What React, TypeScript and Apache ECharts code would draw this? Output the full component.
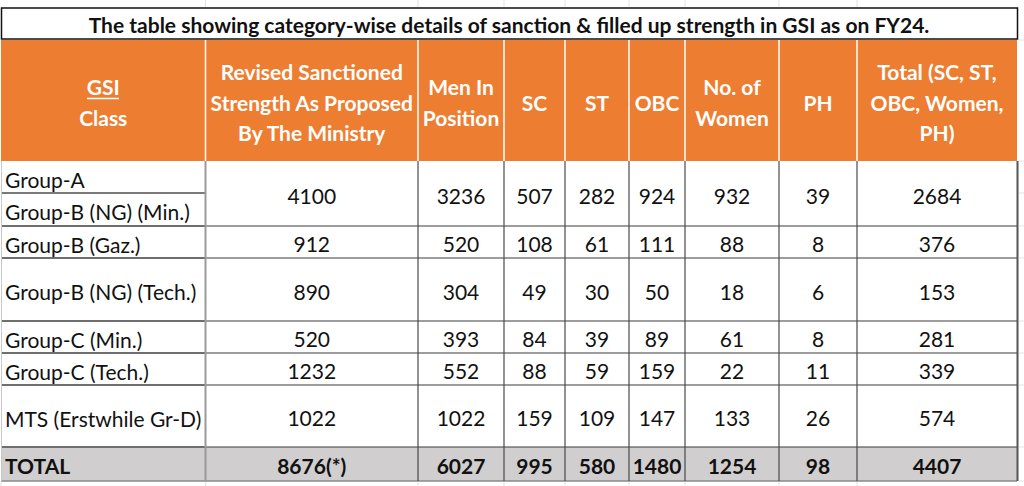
import React, { useEffect, useRef } from "react";
import * as echarts from "echarts";

const title = "The table showing category-wise details of sanction & filled up strength in GSI as on FY24.";
const headers = [
  "GSI\nClass",
  "Revised Sanctioned\nStrength As Proposed\nBy The Ministry",
  "Men In\nPosition",
  "SC",
  "ST",
  "OBC",
  "No. of\nWomen",
  "PH",
  "Total (SC, ST,\nOBC, Women,\nPH)",
];
const classNames = [
  "Group-A",
  "Group-B (NG) (Min.)",
  "Group-B (Gaz.)",
  "Group-B (NG) (Tech.)",
  "Group-C (Min.)",
  "Group-C (Tech.)",
  "MTS (Erstwhile Gr-D)",
];
// data rows: row 0 is shared by Group-A and Group-B (NG) (Min.)
const sanctioned = [4100, 912, 890, 520, 1232, 1022];
const menInPosition = [3236, 520, 304, 393, 552, 1022];
const sc = [507, 108, 49, 84, 88, 159];
const st = [282, 61, 30, 39, 59, 109];
const obc = [924, 111, 50, 89, 159, 147];
const women = [932, 88, 18, 61, 22, 133];
const ph = [39, 8, 6, 8, 11, 26];
const totalReserved = [2684, 376, 153, 281, 339, 574];
const totalLabel = "TOTAL";
const totalRow = ["8676(*)", "6027", "995", "580", "1480", "1254", "98", "4407"];

// layout
const colX = [1, 205.5, 418, 504, 565, 629, 685, 779, 857, 1017];
const headTop = 40;
const headBottom = 161;
const subRowY = [161, 193, 226]; // Group-A / Group-B (NG)(Min.) split
const dataRowY = [161, 226, 258, 321, 353, 385, 447];
const totalBottom = 481;
const FONT = "Lato, 'Open Sans', sans-serif";

function App() {
  const ref = useRef<HTMLDivElement>(null);
  useEffect(() => {
    if (!ref.current) return;
    const chart = echarts.init(ref.current, null, { renderer: "svg" });
    const els: any[] = [];
    const txt = (t: string, x: number, y: number, opts: any = {}) => {
      const align = opts.align || "center";
      els.push({
        type: "text",
        z: 10,
        style: {
          text: t,
          x,
          y,
          fill: opts.fill || "#111",
          font: `${opts.weight || "normal"} ${opts.size || 21}px ${FONT}`,
          lineHeight: opts.lineHeight || 31,
          textAlign: align,
          align,
          textVerticalAlign: "middle",
          verticalAlign: "middle",
        },
      });
    };
    const line = (x1: number, y1: number, x2: number, y2: number, stroke: string, w: number, z = 5) => {
      els.push({ type: "line", z, shape: { x1, y1, x2, y2 }, style: { stroke, lineWidth: w } });
    };

    // faint spreadsheet grid outside the table
    [205.5, 418, 504, 565, 629, 685, 779, 857].forEach((x) => line(x, 0, x, 7, "#e3e3e3", 1, 1));
    [40, 161, 193, 226, 258, 321, 353, 385, 447, 481].forEach((y) => line(1019, y, 1024, y, "#e3e3e3", 1, 1));
    colX.slice(0, 9).forEach((x) => line(x, 482, x, 486, "#e3e3e3", 1, 1));

    // title
    els.push({
      type: "rect",
      z: 3,
      shape: { x: 1.5, y: 8, width: 1016, height: 31 },
      style: { fill: "#fff", stroke: "#111", lineWidth: 1.5 },
    });
    txt(title, 509, 24, { weight: "bold", size: 21 });

    // header
    els.push({
      type: "rect",
      z: 2,
      shape: { x: 1, y: headTop, width: colX[9] - 1, height: headBottom - headTop },
      style: { fill: "#ED7D31" },
    });
    headers.forEach((h, i) => {
      const cx = (colX[i] + colX[i + 1]) / 2;
      txt(h, cx, 102, { weight: "bold", size: 21, fill: "#fff", lineHeight: 30.5 });
    });
    // underline under "GSI"
    line(87, 98.5, 119, 98.5, "#fff", 1.5, 11);
    colX.slice(1, 9).forEach((x) => line(x, headTop, x, headBottom, "#fff", 1.5, 6));

    // total row background
    els.push({
      type: "rect",
      z: 2,
      shape: { x: 1, y: dataRowY[6], width: colX[9] - 1, height: totalBottom - dataRowY[6] },
      style: { fill: "#D0CECE" },
    });

    // first column labels
    txt(classNames[0], 5, (subRowY[0] + subRowY[1]) / 2 + 2, { align: "left" });
    txt(classNames[1], 5, (subRowY[1] + subRowY[2]) / 2 + 2, { align: "left" });
    for (let r = 1; r < 6; r++) {
      txt(classNames[r + 1], 5, (dataRowY[r] + dataRowY[r + 1]) / 2 + 2, { align: "left" });
    }
    txt(totalLabel, 5, (dataRowY[6] + totalBottom) / 2 + 1, { align: "left", weight: "bold" });

    // data
    const cols = [sanctioned, menInPosition, sc, st, obc, women, ph, totalReserved];
    cols.forEach((arr, c) => {
      const cx = (colX[c + 1] + colX[c + 2]) / 2;
      arr.forEach((v, r) => {
        txt(String(v), cx, (dataRowY[r] + dataRowY[r + 1]) / 2 + 1.5);
      });
      txt(totalRow[c], cx, (dataRowY[6] + totalBottom) / 2 + 1, { weight: "bold" });
    });

    // grid lines
    line(1, subRowY[1], colX[1], subRowY[1], "#7a7a7a", 2);
    dataRowY.slice(1).forEach((y) => {
      line(1, y, colX[1], y, "#6e6e6e", 2);
      line(colX[1], y, colX[9], y, "#3c3c3c", 1.2);
    });
    line(1, totalBottom, colX[9], totalBottom, "#8a8a8a", 1.5);
    line(colX[1], headBottom, colX[1], totalBottom, "#9a9a9a", 2);
    colX.slice(2, 9).forEach((x) => line(x, headBottom, x, totalBottom, "#4a4a4a", 1.2));
    line(1.5, headBottom, 1.5, totalBottom, "#c8c8c8", 1);
    line(1017.5, headBottom, 1017.5, totalBottom, "#555", 2);

    chart.setOption({
      animation: false,
      backgroundColor: "#fff",
      graphic: { elements: els },
    });
    return () => chart.dispose();
  }, []);
  return (
    <div
      ref={ref}
      style={{ position: "fixed", left: 0, top: 0, width: 1024, height: 486, background: "#fff" }}
    />
  );
}

export default App;
